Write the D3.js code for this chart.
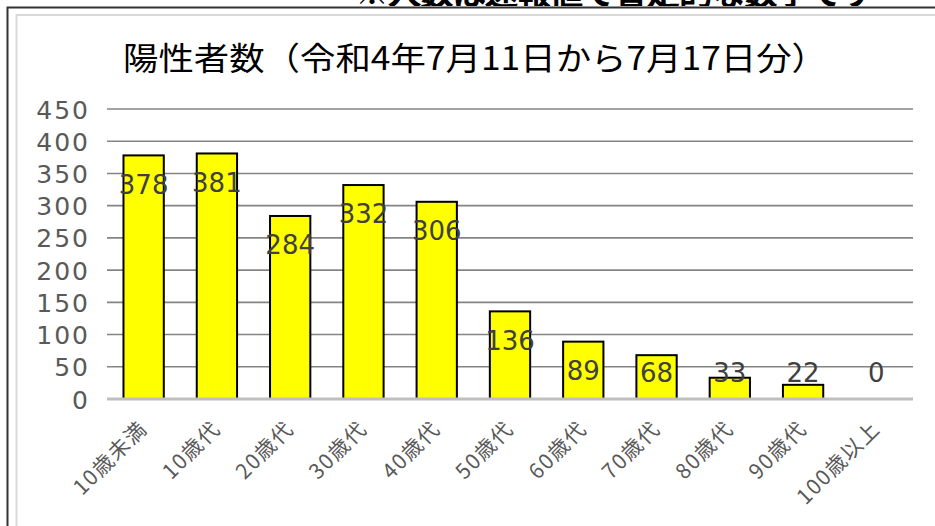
<!DOCTYPE html>
<html><head><meta charset="utf-8">
<script src="https://cdn.jsdelivr.net/npm/d3@7"></script>
<style>
html,body{margin:0;padding:0;background:#fff;}
svg{display:block;}
</style>
</head><body>
<script>
const categories = ["10歳未満","10歳代","20歳代","30歳代","40歳代","50歳代","60歳代","70歳代","80歳代","90歳代","100歳以上"];
const values = [378,381,284,332,306,136,89,68,33,22,0];
const yTicks = [0,50,100,150,200,250,300,350,400,450];
const titleText = "陽性者数（令和4年7月11日から7月17日分）";
const headerText = "※人数は速報値で暫定的な数字です";

const W = 935, H = 526;
const svg = d3.select("body").append("svg").attr("width", W).attr("height", H);

// cut-off header above the frame
svg.append("clipPath").attr("id","hc").append("rect").attr("x",0).attr("y",0).attr("width",W).attr("height",6);
svg.append("text").attr("clip-path","url(#hc)")
  .attr("x", 355).attr("y", 5)
  .attr("font-family","Noto Sans CJK JP").attr("font-weight","bold").attr("font-size",34)
  .attr("textLength", 520).attr("fill","#000").text(headerText);

// frames
svg.append("path").attr("d", `M7.5,${H} V7.5 H${W}`).attr("fill","none").attr("stroke","#333").attr("stroke-width",2);
svg.append("path").attr("d", `M16.5,${H} V15 H${W}`).attr("fill","none").attr("stroke","#d9d9d9").attr("stroke-width",2);

// title
svg.append("text").attr("x", 475).attr("y", 70)
  .attr("text-anchor","middle")
  .attr("font-family","Noto Sans CJK JP").attr("font-size",32)
  .attr("textLength", 704).attr("lengthAdjust","spacingAndGlyphs")
  .attr("fill","#000").text(titleText);

const x = d3.scaleBand().domain(categories).range([107, 913]).paddingInner(0.45).paddingOuter(0.225);
const y = d3.scaleLinear().domain([0, 450]).range([399, 109]);

// gridlines
svg.append("g").selectAll("line").data(yTicks.filter(t => t > 0)).join("line")
  .attr("x1", 107).attr("x2", 913)
  .attr("y1", d => y(d)).attr("y2", d => y(d))
  .attr("stroke", "#848484").attr("stroke-width", 1.6);

// y axis labels
const yAxis = d3.axisLeft(y).tickValues(yTicks).tickSize(0).tickPadding(0);
const ya = svg.append("g").attr("transform", "translate(90,0)").call(yAxis);
ya.select(".domain").remove();
ya.selectAll("text")
  .attr("font-family","DejaVu Sans").attr("font-size",25)
  .attr("fill","#595959").attr("letter-spacing","2px")
  .attr("dy","0.36em");

// bars
svg.append("g").selectAll("rect").data(values).join("rect")
  .attr("x", (d,i) => x(categories[i]))
  .attr("y", d => y(d))
  .attr("width", x.bandwidth())
  .attr("height", d => y(0) - y(d))
  .attr("fill", "#ffff00")
  .attr("stroke", "#000").attr("stroke-width", 2);

// baseline
svg.append("line").attr("x1",107).attr("x2",913).attr("y1",y(0)).attr("y2",y(0))
  .attr("stroke","#bfbfbf").attr("stroke-width",3);

// data labels
svg.append("g").selectAll("text").data(values).join("text")
  .attr("x", (d,i) => x(categories[i]) + x.bandwidth()/2)
  .attr("y", d => Math.min(y(d) + 29, 373))
  .attr("dy", "0.36em")
  .attr("text-anchor","middle")
  .attr("font-family","DejaVu Sans").attr("font-size",26)
  .attr("fill","#404040")
  .text(d => d);

// x labels
const xAxis = d3.axisBottom(x).tickSize(0).tickPadding(0);
const xa = svg.append("g").attr("transform", `translate(0,${y(0)})`).call(xAxis);
xa.select(".domain").remove();
xa.selectAll("text")
  .attr("font-family","Noto Sans CJK JP").attr("font-size",21)
  .attr("letter-spacing","1.5px")
  .attr("fill","#595959")
  .attr("text-anchor","end")
  .attr("dy", null).attr("y", null)
  .attr("transform", "translate(5,31) rotate(-45)");
</script>
</body></html>
